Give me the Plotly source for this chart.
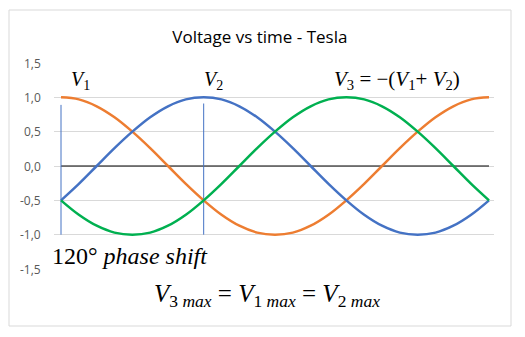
import plotly.graph_objects as go

# phase angle in degrees (time axis)
angle = [0, 15, 30, 45, 60, 75, 90, 105, 120, 135, 150, 165, 180,
         195, 210, 225, 240, 255, 270, 285, 300, 315, 330, 345, 360]
v1 = [1.0, 0.97, 0.87, 0.71, 0.5, 0.26, 0.0, -0.26, -0.5, -0.71, -0.87, -0.97, -1.0,
      -0.97, -0.87, -0.71, -0.5, -0.26, 0.0, 0.26, 0.5, 0.71, 0.87, 0.97, 1.0]
v2 = [-0.5, -0.26, 0.0, 0.26, 0.5, 0.71, 0.87, 0.97, 1.0, 0.97, 0.87, 0.71, 0.5,
      0.26, 0.0, -0.26, -0.5, -0.71, -0.87, -0.97, -1.0, -0.97, -0.87, -0.71, -0.5]
v3 = [-0.5, -0.71, -0.87, -0.97, -1.0, -0.97, -0.87, -0.71, -0.5, -0.26, 0.0, 0.26, 0.5,
      0.71, 0.87, 0.97, 1.0, 0.97, 0.87, 0.71, 0.5, 0.26, 0.0, -0.26, -0.5]
zero_x = [0, 360]
zero_y = [0, 0]
marker1_x = [0, 0]
marker1_y = [-1.0, 0.89]
marker2_x = [120, 120]
marker2_y = [-1.0, 0.91]
y_ticks = [-1.5, -1.0, -0.5, 0.0, 0.5, 1.0, 1.5]
y_tick_labels = ["-1,5", "-1,0", "-0,5", "0,0", "0,5", "1,0", "1,5"]

BLUE = "#4472C4"
ORANGE = "#ED7D31"
GREEN = "#00B050"

fig = go.Figure()
fig.add_trace(go.Scatter(x=zero_x, y=zero_y, mode="lines",
                         line=dict(color="black", width=1), hoverinfo="skip"))
fig.add_trace(go.Scatter(x=marker1_x, y=marker1_y, mode="lines",
                         line=dict(color=BLUE, width=1)))
fig.add_trace(go.Scatter(x=marker2_x, y=marker2_y, mode="lines",
                         line=dict(color=BLUE, width=1)))
fig.add_trace(go.Scatter(x=angle, y=v1, mode="lines", line_shape="spline",
                         line=dict(color=ORANGE, width=2.5)))
fig.add_trace(go.Scatter(x=angle, y=v2, mode="lines", line_shape="spline",
                         line=dict(color=BLUE, width=2.5)))
fig.add_trace(go.Scatter(x=angle, y=v3, mode="lines", line_shape="spline",
                         line=dict(color=GREEN, width=2.5)))

serif = "Liberation Serif"
ann = []
def add(text, x, y, size, xanchor="left", ref="data"):
    xr, yr = ("x", "y") if ref == "data" else ("paper", "paper")
    ann.append(dict(text=text, x=x, y=y, xref=xr, yref=yr, showarrow=False,
                    xanchor=xanchor, yanchor="middle",
                    font=dict(family=serif, size=size, color="black")))

add("<i>V</i><sub>1</sub>", 6.5, 1.24, 20)
add("<i>V</i><sub>2</sub>", 119, 1.24, 20)
add("<i>V</i><sub>3</sub> = −(<i>V</i><sub>1</sub>+ <i>V</i><sub>2</sub>)", 228, 1.25, 21)
add("120°<i> phase shift</i>", -0.008, 0.063, 24, ref="paper")
add("<i>V</i><sub>3 </sub><i><sub>max</sub></i> = <i>V</i><sub>1 </sub><i><sub>max</sub></i>"
    " = <i>V</i><sub>2 </sub><i><sub>max</sub></i>",
    0.484, -0.131, 25, xanchor="center", ref="paper")

# y tick labels, placed with a wider gap from the plot area (as in the reference)
for val, lab in zip(y_ticks, y_tick_labels):
    ann.append(dict(text=lab, x=-0.026, y=val, xref="paper", yref="y",
                    showarrow=False, xanchor="right", yanchor="middle",
                    font=dict(family="Open Sans", size=12, color="#595959")))

fig.update_layout(
    width=525, height=337,
    margin=dict(l=54, r=31, t=63, b=68),
    paper_bgcolor="white", plot_bgcolor="white",
    showlegend=False,
    title=dict(text="Voltage vs time - Tesla", x=0.495, xanchor="center",
               y=1 - 37 / 337, yanchor="middle", yref="container",
               font=dict(family="Open Sans", size=17, color="black")),
    xaxis=dict(range=[-5.9, 364.2], showgrid=False, zeroline=False,
               showticklabels=False, ticks="", showline=False),
    yaxis=dict(range=[-1.5, 1.5], tickvals=y_ticks, showticklabels=False,
               showgrid=True, gridcolor="#D9D9D9", gridwidth=1, zeroline=False,
               ticks="", showline=False),
    annotations=ann,
    shapes=[dict(type="rect", xref="paper", yref="paper",
                 x0=-45 / 440, x1=1 + 17 / 440, y0=-57 / 206, y1=1 + 53 / 206,
                 line=dict(color="#D9D9D9", width=1), fillcolor="rgba(0,0,0,0)")],
)

fig.write_html("out.html")
